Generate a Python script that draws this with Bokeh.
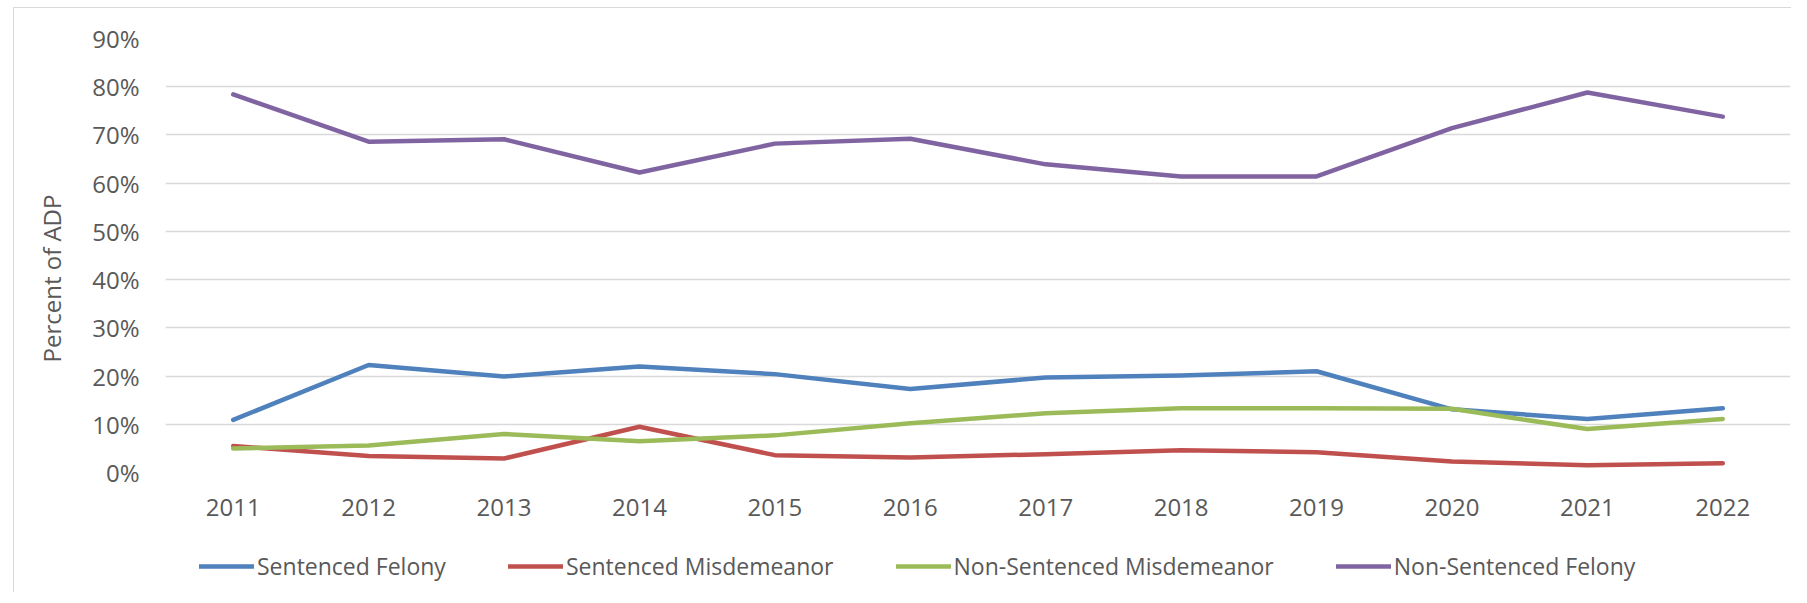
from bokeh.plotting import figure
from bokeh.layouts import column
from bokeh.models import Range1d, FactorRange, Legend, LegendItem, Title, FixedTicker, PrintfTickFormatter
from bokeh.embed import file_html
from bokeh.resources import INLINE

years = ["2011", "2012", "2013", "2014", "2015", "2016", "2017", "2018", "2019", "2020", "2021", "2022"]
sentenced_felony = [10.9, 22.3, 19.9, 22.0, 20.4, 17.3, 19.7, 20.1, 21.0, 13.1, 11.1, 13.3]
sentenced_misdemeanor = [5.5, 3.4, 2.9, 9.5, 3.6, 3.1, 3.8, 4.6, 4.2, 2.3, 1.5, 1.9]
non_sentenced_misdemeanor = [5.0, 5.6, 8.0, 6.5, 7.7, 10.2, 12.3, 13.3, 13.3, 13.2, 9.0, 11.1]
non_sentenced_felony = [78.4, 68.6, 69.1, 62.2, 68.2, 69.2, 63.9, 61.4, 61.4, 71.4, 78.8, 73.8]
y_ticks = [0, 10, 20, 30, 40, 50, 60, 70, 80, 90]

series = [
    ("Sentenced Felony", sentenced_felony, "#4f81bd"),
    ("Sentenced Misdemeanor", sentenced_misdemeanor, "#c0504d"),
    ("Non-Sentenced Misdemeanor", non_sentenced_misdemeanor, "#9bbb59"),
    ("Non-Sentenced Felony", non_sentenced_felony, "#8064a2"),
]

FONT = "Open Sans"
TXT = "#595959"
GRID = "#d9d9d9"
LW = 4.5

# main chart
p = figure(width=1777, height=524, output_backend="svg", toolbar_location=None,
           x_range=FactorRange(factors=years, range_padding=0),
           y_range=Range1d(0, 90),
           min_border_left=151, min_border_right=1, min_border_top=30, min_border_bottom=60)
p.outline_line_color = None
p.background_fill_color = "white"
p.border_fill_color = "white"

p.xgrid.grid_line_color = None
p.ygrid.grid_line_color = GRID
p.ygrid.grid_line_width = 1.5
p.yaxis.ticker = FixedTicker(ticks=y_ticks)
p.yaxis.formatter = PrintfTickFormatter(format="%d%%")

for ax in (p.xaxis[0], p.yaxis[0]):
    ax.axis_line_color = None
    ax.major_tick_line_color = None
    ax.minor_tick_line_color = None
    ax.major_tick_out = 0
    ax.major_tick_in = 0
    ax.major_label_text_font = FONT
    ax.major_label_text_font_size = "24px"
    ax.major_label_text_color = TXT
p.yaxis.major_label_standoff = 26
p.xaxis.major_label_standoff = 26

for name, vals, color in series:
    p.line(years, vals, line_color=color, line_width=LW, line_cap="round", line_join="round")

title = Title(text="Percent of ADP", align="left", offset=110, standoff=40, vertical_align="top",
              text_font=FONT, text_font_size="24px", text_color=TXT, text_font_style="normal")
p.add_layout(title, "left")

# legend strip below the chart (its frame is aligned with the chart's frame)
lg = figure(width=1777, height=60, output_backend="svg", toolbar_location=None,
            x_range=Range1d(0, 1), y_range=Range1d(0, 1), min_border=0)
lg.axis.visible = False
lg.grid.grid_line_color = None
lg.outline_line_color = None
items = []
for name, vals, color in series:
    r = lg.line(x=[-5, -4], y=[-5, -4], line_color=color, line_width=LW, line_cap="round")
    items.append(LegendItem(label=name, renderers=[r]))
legend = Legend(items=items, orientation="horizontal", location=(34, 10),
                padding=0, margin=0, spacing=62, label_standoff=3,
                glyph_width=55, glyph_height=30, label_height=30,
                border_line_color=None, background_fill_alpha=0,
                label_text_font=FONT, label_text_font_size="23px", label_text_color=TXT)
lg.add_layout(legend, "center")

page = column(p, lg, spacing=0)
page.margin = (7, 0, 0, 13)
page.styles = {"border-left": "1px solid #d9d9d9", "border-top": "1px solid #d9d9d9"}

open("out.html", "w").write(file_html(page, INLINE))
